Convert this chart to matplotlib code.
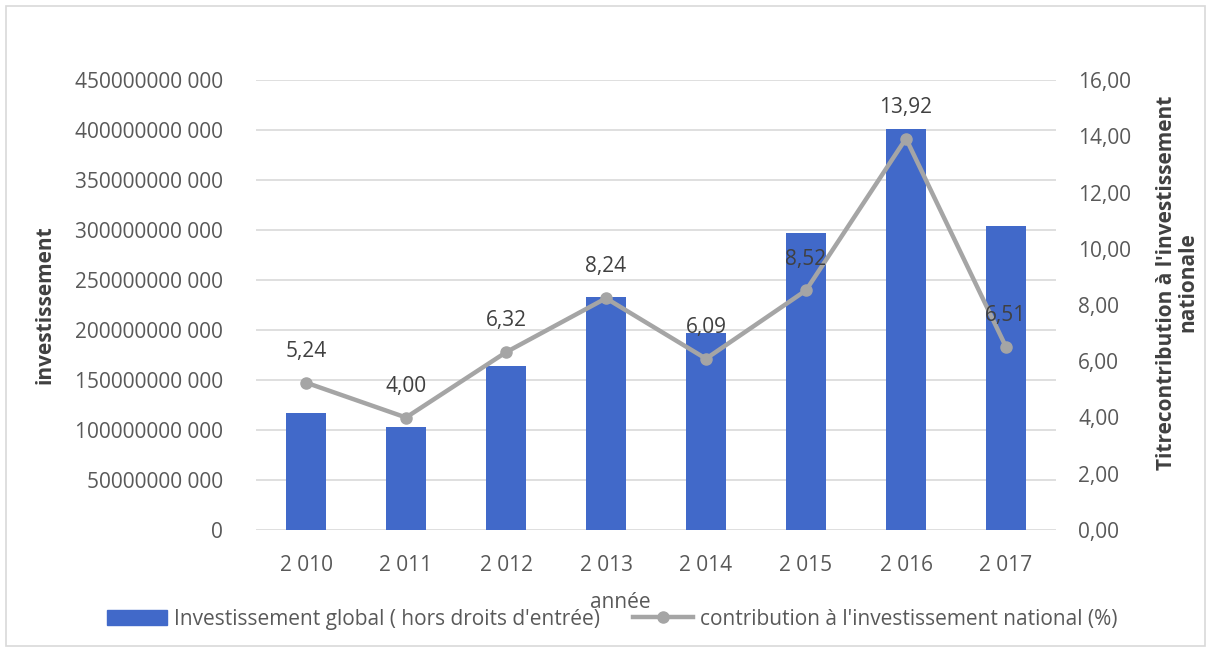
import matplotlib
matplotlib.use("Agg")
import matplotlib.pyplot as plt
from matplotlib.ticker import FuncFormatter, MultipleLocator
from matplotlib.lines import Line2D
from matplotlib.patches import Patch, Rectangle

# Data
years = ["2 010", "2 011", "2 012", "2 013", "2 014", "2 015", "2 016", "2 017"]
investissement = [117e9, 103e9, 164e9, 233e9, 197e9, 297e9, 401e9, 304e9]
contribution = [5.24, 4.00, 6.32, 8.24, 6.09, 8.52, 13.92, 6.51]

bar_label = "Investissement global ( hors droits d'entrée)"
line_label = "contribution à l'investissement national (%)"

plt.rcParams['font.family'] = ['Open Sans', 'DejaVu Sans']
FS = 15
TXT = '#595959'
BLUE = '#4169C9'
GRAY = '#A5A5A5'
GRID = '#D9D9D9'

W, H = 1211, 652
fig = plt.figure(figsize=(W / 100, H / 100), dpi=100)
fig.patch.set_facecolor('white')

# figure frame
fig.add_artist(Rectangle((6 / W, 6 / H), (W - 12) / W, (H - 12) / H,
                         transform=fig.transFigure, fill=False,
                         edgecolor=GRID, linewidth=1.2))

left, right, top, bottom = 256, 1056, 80, 530
ax = fig.add_axes([left / W, 1 - bottom / H, (right - left) / W, (bottom - top) / H])
ax2 = ax.twinx()

x = list(range(len(years)))
ax.bar(x, investissement, width=0.4, color=BLUE, zorder=2)
ax.set_ylim(0, 450e9)
ax.set_xlim(-0.5, len(years) - 0.5)
ax.yaxis.set_major_locator(MultipleLocator(50e9))


def fmt_left(v, pos):
    v = int(round(v))
    if v == 0:
        return "0"
    return f"{v // 1000} {v % 1000:03d}"


ax.yaxis.set_major_formatter(FuncFormatter(fmt_left))
ax.grid(axis='y', color=GRID, linewidth=1.2, zorder=0)
ax.set_axisbelow(True)
ax.set_xticks(x)
ax.set_xticklabels(years)
ax.tick_params(axis='both', length=0, labelsize=FS, colors=TXT)
ax.tick_params(axis='y', pad=24)
ax.tick_params(axis='x', pad=18)

for s in ax.spines.values():
    s.set_visible(False)
for s in ax2.spines.values():
    s.set_visible(False)

ax2.plot(x, contribution, color=GRAY, linewidth=3.2, marker='o',
         markersize=8, markerfacecolor=GRAY, markeredgecolor=GRAY, zorder=3)
ax2.set_ylim(0, 16)
ax2.yaxis.set_major_locator(MultipleLocator(2))
ax2.yaxis.set_major_formatter(FuncFormatter(lambda v, p: f"{v:.2f}".replace('.', ',')))
ax2.tick_params(axis='y', length=0, labelsize=FS, colors=TXT, pad=16)

for xi, v in zip(x, contribution):
    ax2.annotate(f"{v:.2f}".replace('.', ','), (xi, v), xytext=(0, 15),
                 textcoords='offset points', ha='center', va='bottom',
                 fontsize=FS, color='#404040', zorder=4)

ax.set_ylabel("investissement", fontsize=FS, fontweight='bold', color='#404040')
ax.yaxis.set_label_coords(-0.25, 0.5)
ax2.set_ylabel("Titrecontribution à l'investissement\nnationale", fontsize=FS,
               fontweight='bold', color='#404040', linespacing=1.0)
ax2.yaxis.set_label_coords(1.125, 0.55)

fig.text(620 / W, 1 - 603 / H, "année", ha='center', va='center',
         fontsize=FS, color=TXT)

handles = [Patch(facecolor=BLUE, edgecolor=BLUE),
           Line2D([0], [0], color=GRAY, linewidth=3.2, marker='o',
                  markersize=8, markerfacecolor=GRAY)]
fig.legend(handles, [bar_label, line_label], loc='center',
           bbox_to_anchor=(612 / W, 1 - 619 / H), ncol=2, frameon=False,
           fontsize=FS, labelcolor=TXT, handlelength=2.9, handletextpad=0.3,
           columnspacing=1.6)

fig.savefig("out.png", dpi=100, facecolor='white')
